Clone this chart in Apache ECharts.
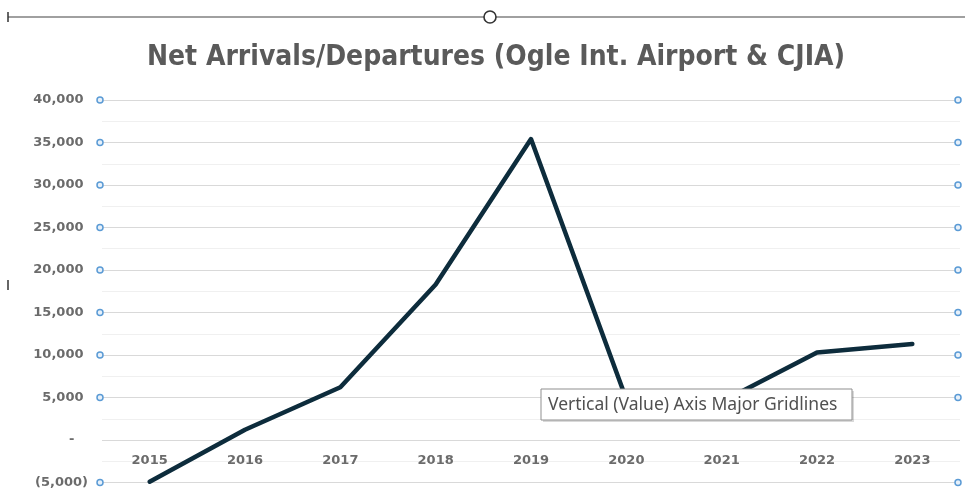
<!DOCTYPE html>
<html>
<head>
<meta charset="utf-8">
<script src="https://cdn.jsdelivr.net/npm/echarts@6/dist/echarts.min.js"></script>
<style>
html,body{margin:0;padding:0;background:#fff;}
#c{width:965px;height:495px;}
</style>
</head>
<body>
<div id="c"></div>
<script>
const titleText = 'Net Arrivals/Departures (Ogle Int. Airport & CJIA)';
const years = ['2015','2016','2017','2018','2019','2020','2021','2022','2023'];
const netArrivals = [-4900, 1200, 6200, 18300, 35400, 4800, 4500, 10300, 11300];
const yTicks = [-5000, 0, 5000, 10000, 15000, 20000, 25000, 30000, 35000, 40000];
const tooltipText = 'Vertical (Value) Axis Major Gridlines';

function fmt(v){
  if (v === 0) return '-   ';
  const s = Math.abs(v).toLocaleString('en-US');
  return v < 0 ? '(' + s + ')' : s + ' ';
}

const chart = echarts.init(document.getElementById('c'), null, {renderer:'canvas'});
const labelColor = '#6b6b6b';
chart.setOption({
  animation:false,
  backgroundColor:'#ffffff',
  title:{
    text:titleText, left:491, top:39, textAlign:'center',
    textStyle:{fontFamily:'Liberation Sans Narrow, DejaVu Sans Condensed, sans-serif', fontSize:28, fontWeight:'bold', color:'#5a5a5a'}
  },
  grid:{left:102, right:5, top:100, bottom:12.5, outerBoundsMode:'none', containLabel:false},
  xAxis:{
    type:'category', data:years, boundaryGap:true, position:'bottom',
    axisLine:{show:false},
    axisTick:{show:false},
    axisLabel:{color:labelColor, fontFamily:'DejaVu Sans', fontSize:13, fontWeight:'bold', margin:-28},
    splitLine:{show:false}
  },
  yAxis:{
    type:'value', min:-5000, max:40000, interval:5000,
    axisLine:{show:false}, axisTick:{show:false},
    axisLabel:{color:labelColor, fontFamily:'DejaVu Sans', fontSize:13, fontWeight:'bold', margin:14, formatter:fmt},
    splitLine:{show:true, lineStyle:{color:'#d9d9d9', width:1}},
    minorTick:{show:false, splitNumber:2},
    minorSplitLine:{show:true, lineStyle:{color:'#f0f0f0', width:1}}
  },
  series:[{
    type:'line', data:netArrivals, showSymbol:false, smooth:false,
    lineStyle:{color:'#0d2c3c', width:4.5, cap:'round', join:'round'},
    z:5
  }]
});

const g = [];
const rect = chart.getModel().getComponent('grid', 0).coordinateSystem.getRect();
yTicks.forEach(function(v){
  if (v === 0) return;
  const y = chart.convertToPixel({yAxisIndex:0}, v);
  [rect.x - 2, rect.x + rect.width - 2].forEach(function(x){
    g.push({type:'circle', shape:{cx:x, cy:y, r:3}, style:{fill:'#e8f1fa', stroke:'#5b9bd5', lineWidth:1.5}, z:10});
  });
});
g.push({type:'line', shape:{x1:8, y1:17, x2:965, y2:17}, style:{stroke:'#a0a0a0', lineWidth:2}, z:10});
g.push({type:'line', shape:{x1:8, y1:12, x2:8, y2:22}, style:{stroke:'#333', lineWidth:1.5}, z:10});
g.push({type:'circle', shape:{cx:490, cy:17, r:6}, style:{fill:'#fff', stroke:'#333', lineWidth:1.6}, z:11});
g.push({type:'line', shape:{x1:8, y1:280, x2:8, y2:290}, style:{stroke:'#333', lineWidth:1.5}, z:10});
g.push({type:'rect', shape:{x:543, y:391, width:311, height:31}, style:{fill:'rgba(0,0,0,0.15)'}, z:19});
g.push({type:'rect', shape:{x:541, y:389, width:311, height:31}, style:{fill:'#ffffff', stroke:'#8f8f8f', lineWidth:1}, z:20});
g.push({type:'text', x:548, y:405, style:{text:tooltipText, fill:'#505050', fontFamily:'Noto Sans', fontSize:17.5, verticalAlign:'middle'}, z:21});
chart.setOption({graphic:g});
</script>
</body>
</html>
